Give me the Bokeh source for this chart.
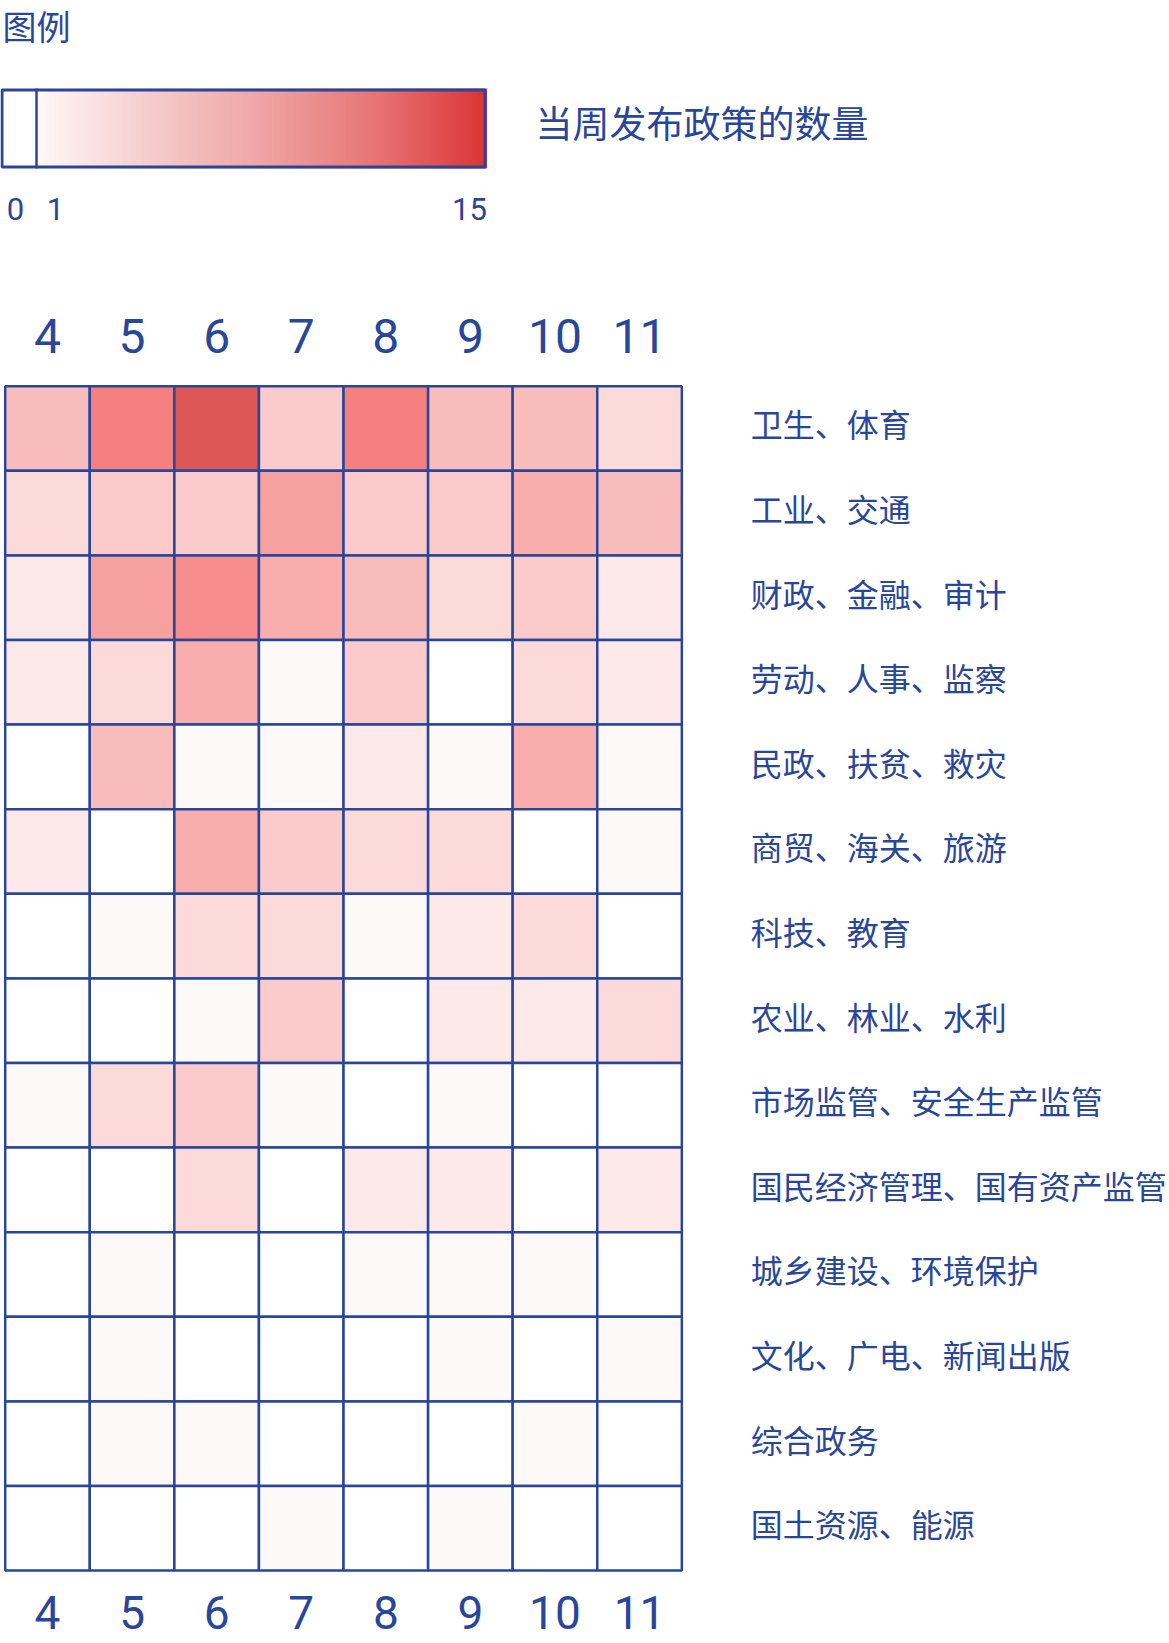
import numpy as np
from bokeh.plotting import figure
from bokeh.models import Range1d, FixedTicker, LinearAxis, ColumnDataSource, LinearColorMapper
from bokeh.layouts import column
from bokeh.embed import file_html
from bokeh.resources import INLINE
from bokeh.core.properties import value
from bokeh.transform import transform

# ---------------- data ----------------
weeks = [4, 5, 6, 7, 8, 9, 10, 11]
categories = [
    "卫生、体育",
    "工业、交通",
    "财政、金融、审计",
    "劳动、人事、监察",
    "民政、扶贫、救灾",
    "商贸、海关、旅游",
    "科技、教育",
    "农业、林业、水利",
    "市场监管、安全生产监管",
    "国民经济管理、国有资产监管",
    "城乡建设、环境保护",
    "文化、广电、新闻出版",
    "综合政务",
    "国土资源、能源",
]
counts_health = [5, 9, 12, 4, 9, 5, 5, 3]
counts_industry = [3, 4, 4, 7, 4, 4, 6, 5]
counts_finance = [2, 7, 8, 6, 5, 3, 4, 2]
counts_labor = [2, 3, 6, 1, 4, 0, 3, 2]
counts_civil = [0, 5, 1, 1, 2, 1, 6, 1]
counts_trade = [2, 0, 6, 4, 3, 3, 0, 1]
counts_science = [0, 1, 3, 3, 1, 2, 3, 0]
counts_agri = [0, 0, 1, 4, 0, 2, 2, 3]
counts_market = [1, 3, 4, 1, 0, 1, 0, 0]
counts_economy = [0, 0, 3, 0, 2, 2, 0, 2]
counts_urban = [0, 1, 0, 0, 1, 1, 1, 0]
counts_culture = [0, 1, 0, 0, 0, 1, 0, 1]
counts_general = [0, 1, 1, 0, 0, 0, 1, 0]
counts_land = [0, 0, 0, 1, 0, 1, 0, 0]
all_counts = [counts_health, counts_industry, counts_finance, counts_labor,
              counts_civil, counts_trade, counts_science, counts_agri,
              counts_market, counts_economy, counts_urban, counts_culture,
              counts_general, counts_land]

legend_title = "图例"
legend_caption = "当周发布政策的数量"
legend_tick_labels = ["0", "1", "15"]
legend_min, legend_max = 1, 15

# ---------------- style ----------------
BLUE = "#2a4699"
PALETTE = ["#ffffff", "#fef9f9", "#fde9e9", "#fcdada", "#fbcbcb", "#f8bcbc",
           "#f9adad", "#f7a0a0", "#f78d8d", "#f67f7f", "#ec6e6e", "#e46262",
           "#dd5757", "#dd4b4b", "#dd3f3f", "#dd3333"]
LEG_STOPS = [(0.0, (255, 248, 248)), (0.25, (246, 204, 204)), (0.5, (240, 164, 164)),
             (0.75, (231, 117, 117)), (1.0, (220, 52, 52))]

W, H = 1169, 1643
LEG_H = 260

# ---------------- legend figure ----------------
leg = figure(width=W, height=LEG_H, x_range=Range1d(0, W), y_range=Range1d(LEG_H, 0),
             output_backend="svg", toolbar_location=None, min_border=0,
             x_axis_location=None, y_axis_location=None, outline_line_color=None)
leg.grid.visible = False

bar_left, zero_right, bar_right = 0, 36, 486
bar_top, bar_bottom = 88, 168

def grad_color(t):
    for (t0, c0), (t1, c1) in zip(LEG_STOPS[:-1], LEG_STOPS[1:]):
        if t <= t1:
            f = (t - t0) / (t1 - t0)
            c = [int(round(a + (b - a) * f)) for a, b in zip(c0, c1)]
            return "#%02x%02x%02x" % tuple(c)
    return "#%02x%02x%02x" % LEG_STOPS[-1][1]

N = 150
vals = np.linspace(legend_min, legend_max, N + 1)
span = bar_right - zero_right
lefts = zero_right + (vals[:-1] - legend_min) / (legend_max - legend_min) * span
rights = zero_right + (vals[1:] - legend_min) / (legend_max - legend_min) * span
cols = [grad_color((v - legend_min) / (legend_max - legend_min)) for v in (vals[:-1] + vals[1:]) / 2]
leg.quad(left=lefts, right=rights + 0.6, top=bar_top, bottom=bar_bottom, fill_color=cols, line_color=None)
leg.quad(left=bar_left, right=zero_right, top=bar_top, bottom=bar_bottom, fill_color="white", line_color=None)
leg.quad(left=bar_left + 1.5, right=bar_right - 1.5, top=bar_top + 1.5, bottom=bar_bottom - 1.5,
         fill_alpha=0, line_color=BLUE, line_width=3)
leg.segment(x0=zero_right, y0=bar_top, x1=zero_right, y1=bar_bottom, line_color=BLUE, line_width=2.5)

leg.text(x=[2], y=[25], text=[legend_title], text_font=value("Noto Sans CJK SC"),
         text_font_size="34px", text_color=BLUE, text_baseline="middle", text_align="left")
leg.text(x=[535], y=[121], text=[legend_caption], text_font=value("Noto Sans CJK SC"),
         text_font_size="37px", text_color=BLUE, text_baseline="middle", text_align="left")
leg.text(x=[15, 55, 469], y=[208] * 3, text=legend_tick_labels, text_font=value("Roboto"),
         text_font_size="31px", text_color=BLUE, text_baseline="middle", text_align="center")

# ---------------- heatmap figure ----------------
n_rows = len(categories)
CELL_W = 84.58
CELL_H = 84.6
GRID_LEFT = 4.7
PAD = 0.02
HEAT_H = H - LEG_H
TOP_BORDER = 124
frame_h = HEAT_H - TOP_BORDER
y_end = n_rows - 0.5 + PAD
y_start = y_end - frame_h / CELL_H
x_start = weeks[0] - 0.5 - GRID_LEFT / CELL_W
x_end = x_start + W / CELL_W

heat = figure(width=W, height=HEAT_H,
              x_range=Range1d(x_start, x_end),
              y_range=Range1d(y_start, y_end),
              output_backend="svg", toolbar_location=None,
              x_axis_location=None, y_axis_location=None,
              min_border_left=0, min_border_right=0, min_border_top=TOP_BORDER,
              min_border_bottom=0, outline_line_color=None)
heat.grid.visible = False

xs, ys, cs = [], [], []
for r, row in enumerate(all_counts):
    for w, c in zip(weeks, row):
        xs.append(w)
        ys.append(n_rows - 1 - r)
        cs.append(c)
src = ColumnDataSource(dict(x=xs, y=ys, count=cs))
mapper = LinearColorMapper(palette=PALETTE, low=-0.5, high=15.5)
heat.rect(x="x", y="y", width=1, height=1, source=src,
          fill_color=transform("count", mapper), line_color=BLUE, line_width=2.5)

top_axis = LinearAxis(ticker=FixedTicker(ticks=weeks))
top_axis.axis_line_color = None
top_axis.major_tick_line_color = None
top_axis.minor_tick_line_color = None
top_axis.major_tick_out = 0
top_axis.major_tick_in = 0
top_axis.major_label_standoff = 32
top_axis.major_label_text_font = "Roboto"
top_axis.major_label_text_font_size = "48px"
top_axis.major_label_text_color = BLUE
heat.add_layout(top_axis, "above")

# category labels to the right of the grid
row_y = [n_rows - 1 - i for i in range(n_rows)]
heat.text(x=[weeks[-1] + 0.5] * n_rows, y=row_y, text=categories, x_offset=69, y_offset=-5,
          text_font=value("Noto Sans CJK SC"), text_font_size="32px", text_color=BLUE,
          text_baseline="middle", text_align="left")

# week labels under the grid
heat.text(x=weeks, y=[-0.5] * len(weeks), text=[str(w) for w in weeks], y_offset=42,
          text_font=value("Roboto"), text_font_size="46px", text_color=BLUE,
          text_baseline="alphabetic", text_align="center")

layout = column(leg, heat, spacing=0)
open("out.html", "w").write(file_html(layout, INLINE))
